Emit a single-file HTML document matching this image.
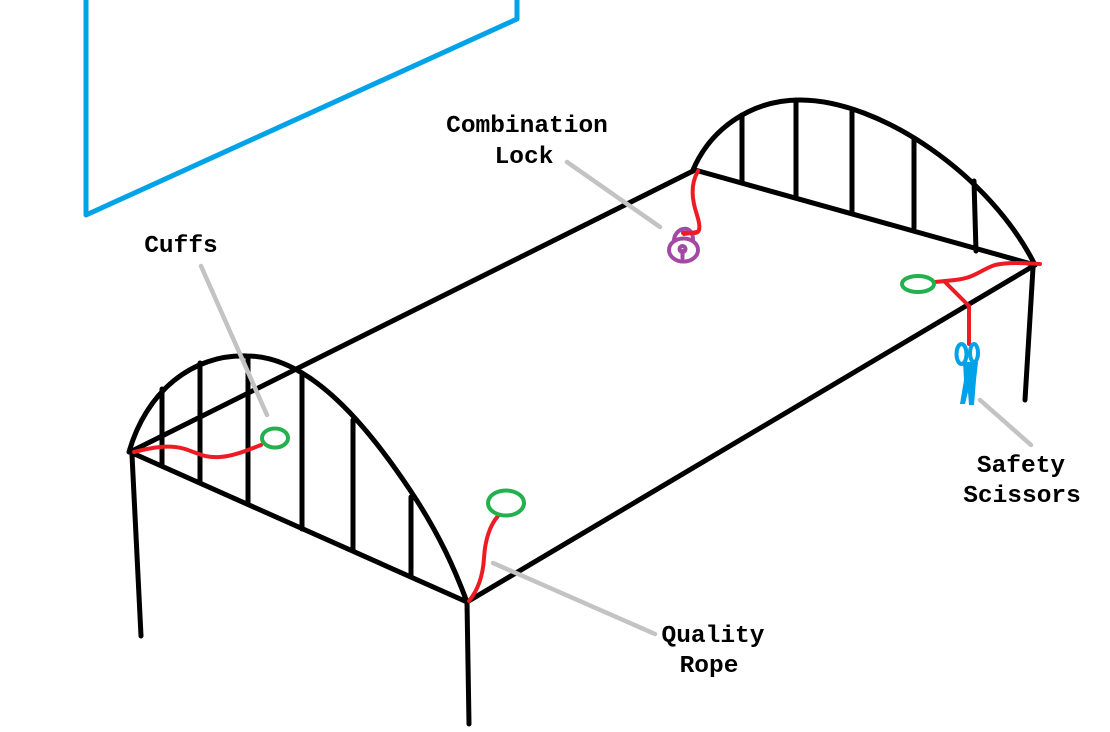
<!DOCTYPE html>
<html><head><meta charset="utf-8"><style>
html,body{margin:0;padding:0;background:#fff;}
svg{display:block;}
text{font-family:"Liberation Mono",monospace;font-weight:bold;font-size:24.5px;fill:#000;}
</style></head><body>
<svg width="1110" height="732" viewBox="0 0 1110 732" xmlns="http://www.w3.org/2000/svg">
<rect width="1110" height="732" fill="#fff"/>
<!-- blue frame -->
<polyline points="86,0 86,215 517,19 517,0" fill="none" stroke="#00a2e8" stroke-width="5" stroke-linejoin="round"/>

<g fill="none" stroke="#000" stroke-width="5" stroke-linecap="round" stroke-linejoin="round">
  <!-- bed edges -->
  <line x1="130" y1="452" x2="695" y2="170"/>
  <line x1="130" y1="452" x2="467" y2="602"/>
  <line x1="467" y1="602" x2="1035" y2="265"/>
  <line x1="695" y1="170" x2="1035" y2="265"/>
  <!-- legs -->
  <line x1="132" y1="455" x2="141" y2="636"/>
  <line x1="467" y1="602" x2="469" y2="724"/>
  <line x1="1033" y1="268" x2="1025" y2="400"/>
  <!-- left arch -->
  <path d="M129,452 C146,392 192,354 247,356 C305,356 360,415 410,490 C440,535 455,570 467,602"/>
  <line x1="162" y1="389" x2="162" y2="466"/>
  <line x1="200" y1="363" x2="200" y2="483"/>
  <line x1="248" y1="357" x2="248" y2="503"/>
  <line x1="302" y1="373" x2="302" y2="529"/>
  <line x1="353" y1="420" x2="353" y2="551"/>
  <line x1="411" y1="497" x2="411" y2="577"/>
  <!-- right arch -->
  <path d="M693,170 C710,130 750,100 800,100 C880,100 990,175 1035,265"/>
  <line x1="742" y1="115" x2="742" y2="183"/>
  <line x1="796" y1="100" x2="796" y2="197"/>
  <line x1="852" y1="112" x2="852" y2="211"/>
  <line x1="914" y1="140" x2="914" y2="228"/>
  <line x1="974" y1="181" x2="976" y2="251"/>
</g>

<!-- grey leader lines -->
<g stroke="#c3c3c3" stroke-width="4.5" stroke-linecap="round" fill="none">
  <line x1="201" y1="266" x2="267" y2="415"/>
  <line x1="567" y1="162" x2="660" y2="227"/>
  <line x1="493" y1="563" x2="655" y2="634"/>
  <line x1="980" y1="400" x2="1031" y2="445"/>
</g>

<!-- red ropes -->
<g fill="none" stroke="#ed1c24" stroke-width="4" stroke-linecap="round" stroke-linejoin="round">
  <path d="M134,452 C150,448 168,444 185,449 C200,454 205,458 220,457 C235,456 250,449 261,445"/>
  <path d="M469,601 C478,590 483,575 484,558 C485,540 490,525 498,516"/>
  <path d="M698,171 C690,185 692,200 697,215 C701,228 700,233 694,233 L683,233"/>
  <path d="M1040,264 C1025,263 1008,262 995,265 C980,270 975,278 955,280 L935,282"/>
  <polyline points="945,282 969,306 969,344"/>
</g>

<!-- green rings -->
<g fill="none" stroke="#22b14c" stroke-width="4">
  <ellipse cx="275" cy="438" rx="13" ry="9.5"/>
  <ellipse cx="506" cy="503" rx="18" ry="12.5"/>
  <ellipse cx="918" cy="284" rx="16" ry="8"/>
</g>

<!-- lock -->
<g fill="none" stroke="#a349a4" stroke-width="4" stroke-linecap="round">
  <path d="M674,242 C673,228 693,222 693,240"/>
  <ellipse cx="683.5" cy="250" rx="14.5" ry="11.5" fill="#fff"/>
  <circle cx="682.5" cy="249" r="3"/>
  <line x1="682.5" y1="251" x2="682.5" y2="258"/>
</g>
<path d="M697,232 L684,234" stroke="#ed1c24" stroke-width="4" stroke-linecap="round"/>

<!-- scissors -->
<g fill="none" stroke="#00a2e8" stroke-width="4">
  <ellipse cx="961.5" cy="354" rx="5" ry="10"/>
  <ellipse cx="974" cy="353" rx="4" ry="9"/>
</g>
<polygon points="963,362 978,362 976,380 974,405 969,405 968,392 965,404 960,404 964,380" fill="#00a2e8"/>

<!-- labels -->
<text x="527" y="132" text-anchor="middle">Combination</text>
<text x="524" y="163" text-anchor="middle">Lock</text>
<text x="181" y="252" text-anchor="middle">Cuffs</text>
<text x="713" y="642" text-anchor="middle">Quality</text>
<text x="709" y="672" text-anchor="middle">Rope</text>
<text x="1021" y="472" text-anchor="middle">Safety</text>
<text x="1022" y="502" text-anchor="middle">Scissors</text>
</svg>
</body></html>
